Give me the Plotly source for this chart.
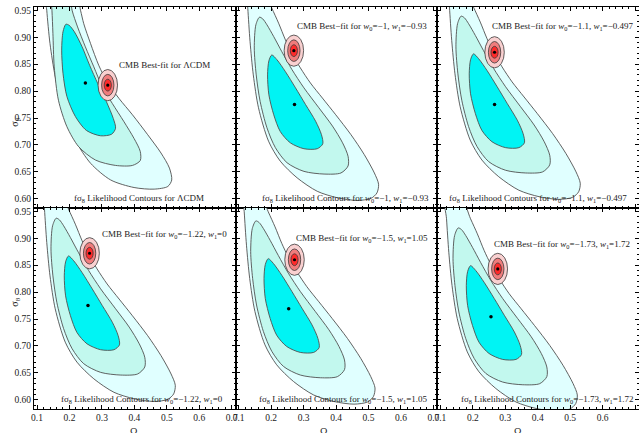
import plotly.graph_objects as go
from plotly.subplots import make_subplots

# ---------------- data ----------------
models_w0 = [None, "−1", "−1.1", "−1.22", "−1.5", "−1.73"]
models_w1 = [None, "−0.93", "−0.497", "0", "1.05", "1.72"]

# fσ8 best-fit points (Ω0m, σ8)
fs8_best_om = [0.249, 0.272, 0.267, 0.257, 0.254, 0.256]
fs8_best_s8 = [0.815, 0.775, 0.775, 0.775, 0.769, 0.754]

# CMB best-fit points (Ω0m, σ8)
cmb_best_om = [0.318, 0.270, 0.267, 0.262, 0.272, 0.277]
cmb_best_s8 = [0.811, 0.875, 0.872, 0.872, 0.860, 0.843]
# CMB contour half-widths (inner, middle, outer) in Ω0m and σ8
cmb_half_om = [0.011, 0.019, 0.030]
cmb_half_s8 = [0.011, 0.020, 0.029]

# fσ8 likelihood contours: ΛCDM panel
lcdm_outer_om = [0.126, 0.130, 0.140, 0.156, 0.182, 0.218, 0.265, 0.327, 0.399, 0.461, 0.503, 0.515,
                 0.508, 0.482, 0.441, 0.394, 0.353, 0.316, 0.290, 0.265, 0.244, 0.234, 0.218]
lcdm_outer_s8 = [0.987, 0.950, 0.888, 0.827, 0.765, 0.709, 0.666, 0.635, 0.621, 0.618, 0.623, 0.635,
                 0.657, 0.685, 0.719, 0.756, 0.786, 0.817, 0.848, 0.888, 0.925, 0.950, 0.987]
lcdm_mid_om = [0.142, 0.146, 0.149, 0.153, 0.166, 0.192, 0.228, 0.280, 0.342, 0.394, 0.418, 0.418,
               0.399, 0.368, 0.332, 0.301, 0.275, 0.249, 0.225, 0.208, 0.197]
lcdm_mid_s8 = [0.987, 0.950, 0.907, 0.845, 0.783, 0.734, 0.697, 0.672, 0.662, 0.662, 0.671, 0.688,
               0.712, 0.743, 0.777, 0.808, 0.845, 0.882, 0.919, 0.950, 0.987]
lcdm_in_om = [0.189, 0.180, 0.176, 0.180, 0.192, 0.218, 0.252, 0.296, 0.330, 0.342, 0.335, 0.314,
              0.287, 0.262, 0.239, 0.215, 0.199]
lcdm_in_s8 = [0.924, 0.910, 0.876, 0.833, 0.790, 0.753, 0.727, 0.717, 0.720, 0.731, 0.749, 0.780,
              0.814, 0.848, 0.882, 0.910, 0.922]

# fσ8 likelihood contours: (w0, w1) panel with w0=-1.22, w1=0
w_outer_om = [0.119, 0.123, 0.130, 0.140, 0.156, 0.187, 0.223, 0.275, 0.337, 0.399, 0.461, 0.503, 0.521,
              0.526, 0.513, 0.482, 0.441, 0.394, 0.353, 0.316, 0.285, 0.259, 0.239, 0.218, 0.197, 0.169]
w_outer_s8 = [0.991, 0.954, 0.892, 0.830, 0.769, 0.707, 0.670, 0.639, 0.614, 0.602, 0.597, 0.601, 0.611,
              0.627, 0.648, 0.682, 0.719, 0.756, 0.787, 0.815, 0.843, 0.870, 0.895, 0.926, 0.954, 0.991]
w_mid_om = [0.159, 0.148, 0.143, 0.149, 0.161, 0.182, 0.208, 0.244, 0.296, 0.358, 0.410, 0.432, 0.432,
            0.415, 0.384, 0.342, 0.296, 0.259, 0.228, 0.203, 0.182, 0.169]
w_mid_s8 = [0.937, 0.923, 0.880, 0.830, 0.781, 0.732, 0.695, 0.667, 0.651, 0.646, 0.648, 0.661, 0.679,
            0.704, 0.735, 0.769, 0.806, 0.840, 0.873, 0.901, 0.923, 0.934]
w_in_om = [0.197, 0.188, 0.184, 0.188, 0.203, 0.223, 0.254, 0.296, 0.337, 0.354, 0.350, 0.332, 0.301,
           0.270, 0.239, 0.213]
w_in_s8 = [0.867, 0.856, 0.830, 0.793, 0.756, 0.725, 0.704, 0.693, 0.693, 0.702, 0.719, 0.744, 0.775,
           0.806, 0.836, 0.858]

# per-panel offset of the traced (w0, w1) contours
contour_shift_om = [0.0, 0.005, 0.005, 0.0, -0.006, -0.004]
contour_shift_s8 = [0.0, 0.0, 0.002, 0.0, -0.005, -0.018]

x_ticks = [0.1, 0.2, 0.3, 0.4, 0.5, 0.6, 0.7]
y_ticks = [0.60, 0.65, 0.70, 0.75, 0.80, 0.85, 0.90, 0.95]

# ---------------- layout constants ----------------
X_RANGE = [0.0907, 0.712]
Y_RANGE = [0.583, 0.956]
cmb_label_pos = [(0.494, 0.848), (0.479, 0.919), (0.476, 0.919), (0.494, 0.907), (0.479, 0.900), (0.476, 0.889)]
fs8_label_pos = [(0.414, 0.601), (0.429, 0.601), (0.401, 0.601), (0.423, 0.600), (0.423, 0.600), (0.429, 0.600)]

FONT = "Liberation Serif"
contour_fills = ["#E0FFFF", "#C2F8EE", "#00F4F4"]
cmb_fills = ["#F9D0D0", "#F07C7C", "#FF2A2A"]
LINE = "#505050"

fig = make_subplots(rows=2, cols=3, shared_xaxes=True, shared_yaxes=True,
                    horizontal_spacing=0, vertical_spacing=0)


def model_text(i):
    if models_w0[i] is None:
        return "ΛCDM"
    return f"<i>w</i><sub>0</sub>={models_w0[i]}, <i>w</i><sub>1</sub>={models_w1[i]}"


for i in range(6):
    r, c = i // 3 + 1, i % 3 + 1
    if i == 0:
        contours = [(lcdm_outer_om, lcdm_outer_s8), (lcdm_mid_om, lcdm_mid_s8), (lcdm_in_om, lcdm_in_s8)]
    else:
        contours = [(w_outer_om, w_outer_s8), (w_mid_om, w_mid_s8), (w_in_om, w_in_s8)]
    dx, dy = contour_shift_om[i], contour_shift_s8[i]
    for (xs, ys), col in zip(contours, contour_fills):
        px = [v + dx for v in xs] + [xs[0] + dx]
        py = [v + dy for v in ys] + [ys[0] + dy]
        fig.add_trace(go.Scatter(x=px, y=py, mode="lines", fill="toself", fillcolor=col,
                                 line=dict(color=LINE, width=0.9, shape="spline", smoothing=0.8),
                                 hoverinfo="skip"), row=r, col=c)
    fig.add_trace(go.Scatter(x=[fs8_best_om[i]], y=[fs8_best_s8[i]], mode="markers",
                             marker=dict(color="black", size=3.5), hoverinfo="skip"), row=r, col=c)
    # CMB contours (outer to inner)
    for k in (2, 1, 0):
        fig.add_shape(type="circle", x0=cmb_best_om[i] - cmb_half_om[k], x1=cmb_best_om[i] + cmb_half_om[k],
                      y0=cmb_best_s8[i] - cmb_half_s8[k], y1=cmb_best_s8[i] + cmb_half_s8[k],
                      fillcolor=cmb_fills[2 - k], line=dict(color="#3a3a3a", width=0.8), row=r, col=c)
    fig.add_shape(type="circle", xsizemode="pixel", ysizemode="pixel",
                  xanchor=cmb_best_om[i], yanchor=cmb_best_s8[i], x0=-1.6, x1=1.6, y0=-1.6, y1=1.6,
                  fillcolor="black", line=dict(width=0), row=r, col=c)
    best = "Best-fit" if i == 0 else "Best−fit"
    fig.add_annotation(x=cmb_label_pos[i][0], y=cmb_label_pos[i][1], text=f"CMB {best} for {model_text(i)}",
                       showarrow=False, font=dict(family=FONT, size=9, color="#222"), row=r, col=c)
    fig.add_annotation(x=fs8_label_pos[i][0], y=fs8_label_pos[i][1],
                       text=f"fσ<sub>8</sub> Likelihood Contours for {model_text(i)}",
                       showarrow=False, font=dict(family=FONT, size=9, color="#222"), row=r, col=c)

axis_common = dict(ticks="inside", ticklen=4, tickwidth=0.8, tickcolor="black", showline=True,
                   linecolor="black", linewidth=1, mirror="allticks", showgrid=False, zeroline=False,
                   tickfont=dict(family=FONT, size=9.5, color="#222"))
fig.update_xaxes(range=X_RANGE, tickvals=x_ticks, tickformat=".1f",
                 minor=dict(ticks="inside", ticklen=2, dtick=0.02, tick0=0.1, tickcolor="black", showgrid=False),
                 **axis_common)
fig.update_yaxes(range=Y_RANGE, tickvals=y_ticks, tickformat=".2f",
                 minor=dict(ticks="inside", ticklen=2, dtick=0.01, tick0=0.6, tickcolor="black", showgrid=False),
                 **axis_common)

# axis titles
for yc in (0.73, 0.25):
    fig.add_annotation(xref="paper", yref="paper", x=-0.046, y=yc, text="σ<sub>8</sub>", textangle=-90,
                       showarrow=False, font=dict(family=FONT, size=10, color="#222"))
for xc in (0.155, 0.486, 0.825):
    fig.add_annotation(xref="paper", yref="paper", x=xc, y=-0.037, yanchor="top", text="Ω<sub>0m</sub>",
                       showarrow=False, font=dict(family=FONT, size=10, color="#222"))

fig.update_layout(width=639, height=433, margin=dict(l=34, r=0, t=7, b=24, autoexpand=False),
                  plot_bgcolor="white", paper_bgcolor="white", showlegend=False)

fig.write_html("out.html", config={"displayModeBar": False},
               post_script="document.body.style.margin='0px';document.body.style.overflow='hidden';")
